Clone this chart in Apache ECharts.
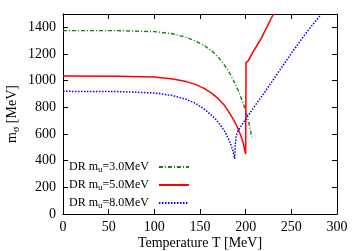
<!DOCTYPE html>
<html>
<head>
<meta charset="utf-8">
<script src="https://cdn.jsdelivr.net/npm/echarts@6/dist/echarts.min.js"></script>
<style>html,body{margin:0;padding:0;background:#fff}#c{width:358px;height:251px}</style>
</head>
<body>
<div id="c"></div>
<script>
// Temperature T [MeV] and m_sigma [MeV] values
var greenT = [0, 60, 100, 120, 135, 145, 155, 163, 170, 176, 181, 186, 190, 194, 198, 201, 204, 206.6];
var greenM = [1375, 1375, 1368, 1352, 1325, 1298, 1262, 1222, 1175, 1125, 1075, 1012, 955, 890, 815, 750, 670, 577];

var redT = [0, 60, 100, 120, 135, 145, 155, 163, 170, 176, 181, 186, 190, 194, 197, 200, 200.4, 203, 206.6, 212, 217.5, 222, 226.6, 230.5];
var redM = [1035, 1034, 1027, 1013, 993, 972, 940, 905, 865, 822, 772, 715, 665, 600, 540, 450, 1135, 1150, 1199, 1260, 1323, 1385, 1448, 1500];

var blueT = [0, 60, 100, 120, 135, 145, 155, 162, 168, 173, 177, 181, 184, 186, 188, 188.6, 189.5, 191, 195, 201, 210, 220, 230, 240, 250, 260, 270, 283];
var blueM = [920, 918, 908, 888, 860, 830, 785, 745, 705, 662, 620, 565, 515, 475, 415, 520, 580, 615, 660, 720, 810, 905, 1005, 1105, 1205, 1300, 1392, 1500];

var seriesNames = ['DR m_u=3.0MeV', 'DR m_u=5.0MeV', 'DR m_u=8.0MeV'];
var legendLabels = ['3.0', '5.0', '8.0'];
var xTicks = [0, 50, 100, 150, 200, 250, 300];
var yTicks = [0, 200, 400, 600, 800, 1000, 1200, 1400];

function pairs(t, m) { return t.map(function (v, i) { return [v, m[i]]; }); }

var FONT = '"Liberation Serif", "DejaVu Serif", serif';
var chart = echarts.init(document.getElementById('c'), null, { renderer: 'canvas' });

function axisCommon() {
  return {
    axisLine: { show: true, onZero: false, lineStyle: { color: '#000', width: 1 } },
    axisTick: { show: true, inside: true, length: 5, lineStyle: { color: '#000', width: 1 } },
    splitLine: { show: false }
  };
}

chart.setOption({
  animation: false,
  backgroundColor: '#fff',
  grid: { left: 63, right: 21, top: 14, bottom: 37, containLabel: false, outerBoundsMode: 'none' },
  xAxis: [
    Object.assign({
      type: 'value', min: 0, max: 300, interval: 50, position: 'bottom',
      name: 'Temperature T [MeV]', nameLocation: 'middle', nameGap: 22, nameMoveOverlap: false,
      nameTextStyle: { fontFamily: FONT, fontSize: 14, color: '#000' },
      axisLabel: { fontFamily: FONT, fontSize: 14, color: '#000', margin: 6,
        formatter: function (v) { return xTicks.indexOf(v) >= 0 ? String(v) : ''; } }
    }, axisCommon()),
    Object.assign({
      type: 'value', min: 0, max: 300, interval: 50, position: 'top',
      axisLabel: { show: false }
    }, axisCommon())
  ],
  yAxis: [
    Object.assign({
      type: 'value', min: 0, max: 1500, interval: 200, position: 'left',
      name: '{a|m}{s|σ}{a| [MeV]}', nameLocation: 'middle', nameGap: 42, nameRotate: 90, nameMoveOverlap: false,
      nameTextStyle: { fontFamily: FONT, fontSize: 14, color: '#000',
        rich: {
          a: { fontFamily: FONT, fontSize: 14, color: '#000' },
          s: { fontFamily: FONT, fontSize: 10, color: '#000', padding: [7, 0, 0, 0] }
        } },
      axisLabel: { fontFamily: FONT, fontSize: 14, color: '#000', margin: 7, showMaxLabel: false,
        formatter: function (v) { return yTicks.indexOf(v) >= 0 ? String(v) : ''; } }
    }, axisCommon()),
    Object.assign({
      type: 'value', min: 0, max: 1500, interval: 200, position: 'right',
      axisLabel: { show: false }
    }, axisCommon())
  ],
  legend: {
    orient: 'vertical', left: 69, top: 161, padding: 0, itemGap: 5,
    align: 'right', itemWidth: 30, itemHeight: 12,
    itemStyle: { opacity: 0 },
    data: seriesNames,
    formatter: function (name) {
      var i = seriesNames.indexOf(name);
      return '{a|DR m}{s|u}{b|=' + legendLabels[i] + 'MeV}';
    },
    textStyle: {
      fontFamily: FONT, fontSize: 12, color: '#000',
      rich: {
        a: { fontFamily: FONT, fontSize: 12, color: '#000' },
        s: { fontFamily: FONT, fontSize: 9, color: '#000', padding: [5, 0, 0, 0] },
        b: { fontFamily: FONT, fontSize: 12, color: '#000', padding: [0, 5, 0, 0] }
      }
    }
  },
  series: [
    {
      name: seriesNames[0], type: 'line', symbol: 'none', xAxisIndex: 0, yAxisIndex: 0,
      data: pairs(greenT, greenM),
      lineStyle: { color: '#1c7a1c', width: 1.4, type: [4, 2, 1, 2] },
      itemStyle: { color: '#1c7a1c' }
    },
    {
      name: seriesNames[1], type: 'line', symbol: 'none', xAxisIndex: 0, yAxisIndex: 0,
      data: pairs(redT, redM),
      lineStyle: { color: '#ff0000', width: 1.5, type: 'solid' },
      itemStyle: { color: '#ff0000' }
    },
    {
      name: seriesNames[2], type: 'line', symbol: 'none', xAxisIndex: 0, yAxisIndex: 0,
      data: pairs(blueT, blueM),
      lineStyle: { color: '#0000ff', width: 1.5, type: [1.5, 1.5] },
      itemStyle: { color: '#0000ff' }
    }
  ]
});
</script>
</body>
</html>
